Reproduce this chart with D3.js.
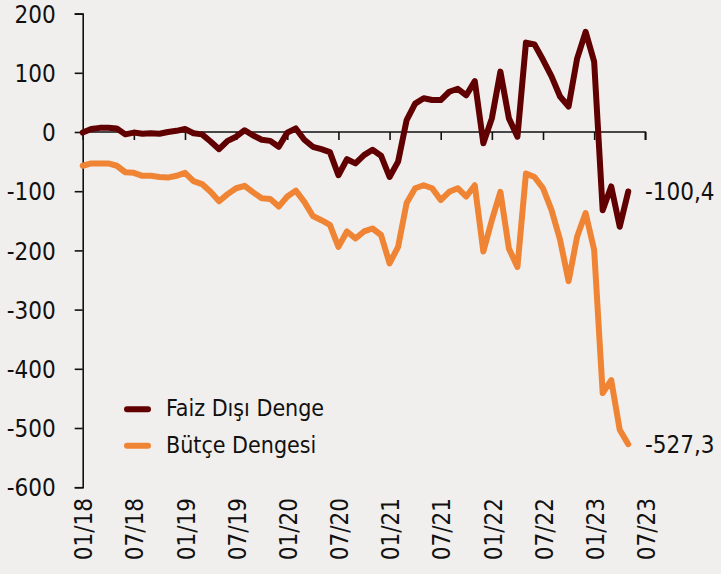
<!DOCTYPE html>
<html>
<head>
<meta charset="utf-8">
<script src="https://cdn.jsdelivr.net/npm/d3@7"></script>
<style>
  html, body { margin: 0; padding: 0; background: #f1efed; }
  svg { display: block; }
  text { font-family: "DejaVu Sans Condensed", "DejaVu Sans", sans-serif; fill: #111; }
</style>
</head>
<body>
<svg id="chart" width="721" height="574"></svg>
<script>
// Monthly values, 01/18 .. 05/23 (12-month rolling, billion TL)
const faizDisiDenge = [
  -1, 5, 7, 7, 6, -4, -1, -3, -2, -3, 0, 2, 5,
  -2, -4, -16, -29, -15, -8, 3, -6, -13, -15, -25,
  -1, 6, -13, -25, -29, -34, -73, -46, -53, -39, -30, -40,
  -76, -50, 20, 48, 57, 54, 54, 68, 73, 62, 86, -19,
  23, 102, 23, -8, 151, 148, 122, 94, 60, 43, 124, 169,
  119, -132, -92, -160, -100.4
];
const butceDengesi = [
  -57, -53, -53, -53, -57, -68, -69, -74, -74, -76, -77, -74, -69,
  -83, -88, -101, -117, -105, -95, -91, -102, -112, -113, -126,
  -109, -99, -118, -142, -149, -157, -194, -168, -180, -168, -163, -174,
  -222, -194, -120, -95, -90, -95, -115, -101, -95, -109, -90, -202,
  -149, -101, -197, -228, -70, -76, -95, -132, -182, -252, -177, -137,
  -199, -441, -419, -503, -527.3
];
const xTickLabels = ["01/18","07/18","01/19","07/19","01/20","07/20","01/21","07/21","01/22","07/22","01/23","07/23"];
const yTicks = [200, 100, 0, -100, -200, -300, -400, -500, -600];
const seriesNames = ["Faiz Dışı Denge", "Bütçe Dengesi"];
const seriesColors = ["#600000", "#ef8434"];
const endLabels = ["-100,4", "-527,3"];

const svg = d3.select("#chart");
const x = d3.scaleLinear().domain([0, 66]).range([82.7, 645.3]);
const y = d3.scaleLinear().domain([-600, 200]).range([487.2, 13.6]);

// y axis
const yAxis = d3.axisLeft(y).tickValues(yTicks).tickSize(8).tickPadding(19)
  .tickFormat(d => String(d));
const gy = svg.append("g").attr("transform", `translate(${x(0)},0)`).call(yAxis);
gy.select(".domain").attr("stroke", "#111").attr("stroke-width", 1.6);
gy.selectAll(".tick line").attr("stroke", "#111").attr("stroke-width", 1.6);
gy.selectAll(".tick text").attr("font-size", 24).attr("dy", "0.36em")
  .style("font-family", "'DejaVu Sans Condensed', 'DejaVu Sans', sans-serif").attr("fill", "#111");

// x axis at zero
const xTickVals = xTickLabels.map((d, i) => i * 6);
const xAxis = d3.axisBottom(x).tickValues(xTickVals).tickSize(8).tickSizeOuter(8).tickFormat("");
const gx = svg.append("g").attr("transform", `translate(0,${y(0)})`).call(xAxis);
gx.select(".domain").attr("stroke", "#111").attr("stroke-width", 1.6).attr("d", `M${x(0)},0H${x(66)}V8`);
gx.selectAll(".tick line").attr("stroke", "#111").attr("stroke-width", 1.6);

// x labels at bottom, rotated
svg.append("g").selectAll("text").data(xTickLabels).join("text")
  .attr("transform", (d, i) => `translate(${x(i * 6) + 1},498) rotate(-90)`)
  .attr("text-anchor", "end").attr("dy", "0.36em")
  .attr("font-size", 24).text(d => d);

// lines
const line = d3.line().x((d, i) => x(i)).y(d => y(d)).curve(d3.curveLinear);
const series = [faizDisiDenge, butceDengesi];
svg.append("g").selectAll("path").data([1, 0]).join("path")
  .attr("d", k => line(series[k]))
  .attr("fill", "none")
  .attr("stroke", k => seriesColors[k])
  .attr("stroke-width", 6)
  .attr("stroke-linejoin", "round")
  .attr("stroke-linecap", "round");

// end labels
svg.append("g").selectAll("text").data(series).join("text")
  .attr("x", 645)
  .attr("y", d => y(d[d.length - 1]))
  .attr("dy", "0.37em")
  .attr("font-size", 24)
  .text((d, k) => endLabels[k]);

// legend
const legendY = [409.3, 445.7];
const lg = svg.append("g");
lg.selectAll("line").data(seriesNames).join("line")
  .attr("x1", 127).attr("x2", 148)
  .attr("y1", (d, i) => legendY[i]).attr("y2", (d, i) => legendY[i])
  .attr("stroke", (d, i) => seriesColors[i]).attr("stroke-width", 6)
  .attr("stroke-linecap", "round");
lg.selectAll("text").data(seriesNames).join("text")
  .attr("x", 166).attr("y", (d, i) => legendY[i])
  .attr("dy", "0.3em")
  .attr("font-size", 23)
  .text(d => d);
</script>
</body>
</html>
